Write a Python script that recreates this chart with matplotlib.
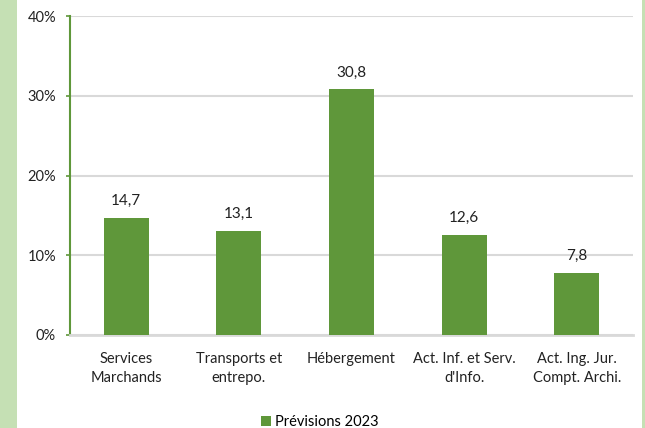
import matplotlib
matplotlib.use("Agg")
import matplotlib.pyplot as plt
from matplotlib.patches import Rectangle

categories = ["Services\nMarchands", "Transports et\nentrepo.", "Hébergement",
              "Act. Inf. et Serv.\nd'Info.", "Act. Ing. Jur.\nCompt. Archi."]
values = [14.7, 13.1, 30.8, 12.6, 7.8]
series_name = "Prévisions 2023"
yticks = [0, 10, 20, 30, 40]

bar_color = "#5f973a"
side_color = "#c5e0b4"

plt.rcParams["font.family"] = ["Lato", "DejaVu Sans"]

fig = plt.figure(figsize=(6.45, 4.28), dpi=100)
fig.patch.set_facecolor("white")

# light green side bands
fig.add_artist(Rectangle((0, 0), 16.5 / 645, 1, transform=fig.transFigure,
                         facecolor=side_color, edgecolor="none", zorder=0))
fig.add_artist(Rectangle((642 / 645, 0), 3 / 645, 1, transform=fig.transFigure,
                         facecolor=side_color, edgecolor="none", zorder=0))

ax = fig.add_axes([70 / 645, 1 - 335 / 428, (633 - 70) / 645, (335 - 16) / 428])
x = range(len(categories))
bars = ax.bar(x, values, width=0.4, color=bar_color, label=series_name, zorder=3)

for xi, v in zip(x, values):
    ax.annotate(f"{v:.1f}".replace(".", ","), (xi, v), xytext=(0, 7),
                textcoords="offset points", ha="center", va="bottom",
                fontsize=11, color="#222222")

ax.set_xlim(-0.5, len(categories) - 0.5)
ax.set_ylim(0, 40)
ax.set_yticks(yticks)
ax.set_yticklabels([f"{t}%" for t in yticks], fontsize=10.5, color="#222222")
ax.set_xticks(list(x))
ax.set_xticklabels(categories, fontsize=10.5, color="#222222", linespacing=1.5)
ax.tick_params(axis="x", length=0, pad=12)
ax.tick_params(axis="y", length=3, width=1.2, color=bar_color, pad=7)

ax.grid(axis="y", color="#d9d9d9", linewidth=1.5, zorder=0)
ax.set_axisbelow(True)
for s in ["top", "right"]:
    ax.spines[s].set_visible(False)
ax.spines["left"].set_color(bar_color)
ax.spines["left"].set_linewidth(1.5)
ax.spines["bottom"].set_color("#d9d9d9")
ax.spines["bottom"].set_linewidth(2)

leg = fig.legend(handles=[bars], labels=[series_name], loc="center",
                 bbox_to_anchor=(320 / 645, 1 - 422 / 428), frameon=False,
                 fontsize=10.5, handlelength=0.7, handleheight=0.7,
                 handletextpad=0.3)

fig.savefig("out.png", dpi=100)
